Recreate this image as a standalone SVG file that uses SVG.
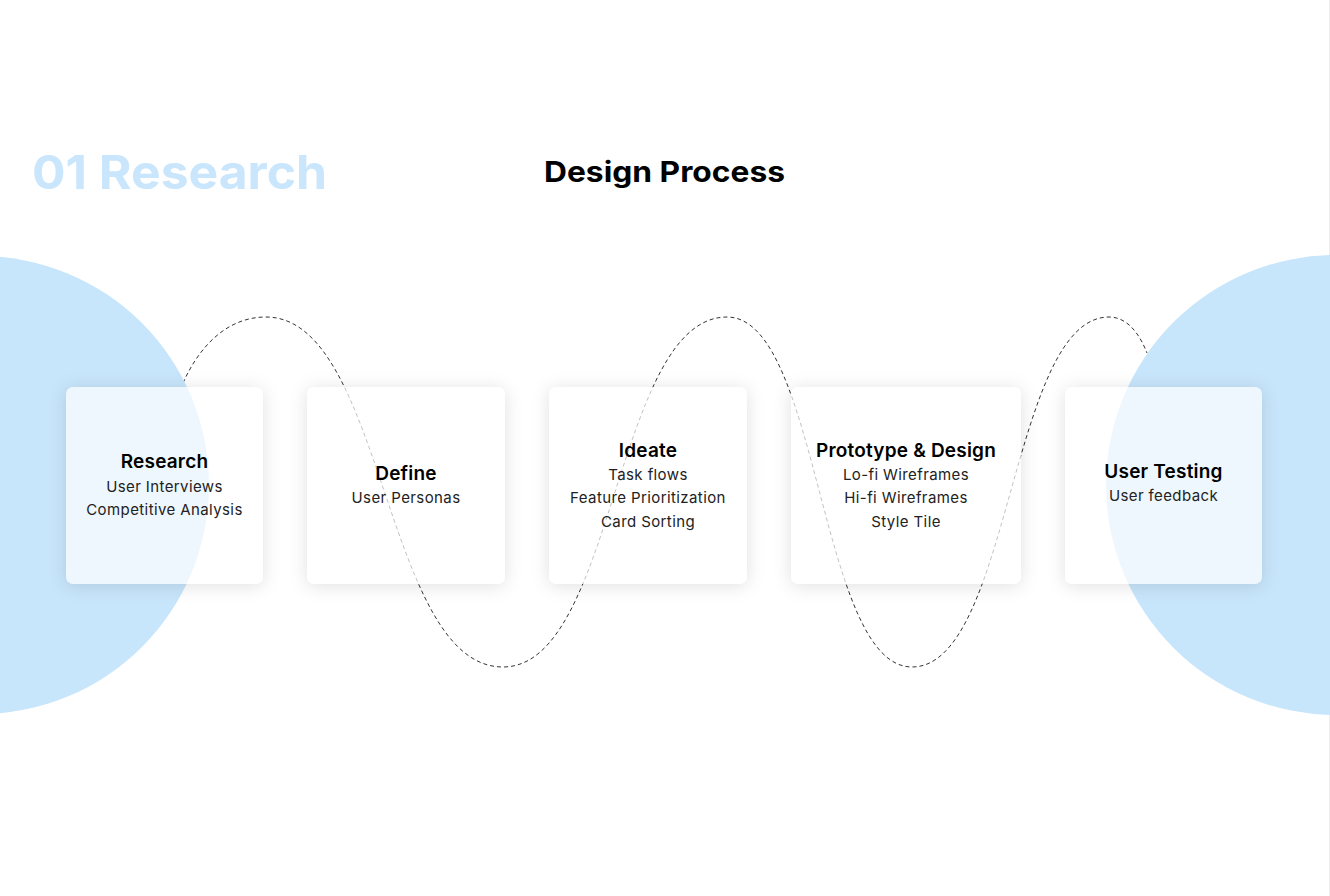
<svg xmlns="http://www.w3.org/2000/svg" width="1330" height="896" viewBox="0 0 1330 896">
  <defs>
    <filter id="shadow" x="-25%" y="-25%" width="150%" height="150%">
      <feGaussianBlur in="SourceAlpha" stdDeviation="9" result="b"/>
      <feOffset in="b" dx="0" dy="2" result="o"/>
      <feFlood flood-color="#000000" flood-opacity="0.12" result="c"/>
      <feComposite in="c" in2="o" operator="in" result="s"/>
      <feComposite in="s" in2="SourceAlpha" operator="out"/>
    </filter>
    <style>
      .bg { fill: #ffffff; }
      .blob { fill: #c7e5fb; }
      .sh { fill: #ffffff; filter: url(#shadow); }
      .card { fill: #ffffff; fill-opacity: 0.7; }
      .path { fill: none; stroke: #333333; stroke-width: 1; stroke-dasharray: 4 3; }
      .title { font-family: "Inter", "Liberation Sans", sans-serif; font-weight: 700; font-size: 29px; fill: #000000; }
      .big { font-family: "Inter", "Liberation Sans", sans-serif; font-weight: 700; font-size: 47px; fill: #c9e6fc; }
      .ct { font-family: "Inter", "Liberation Sans", sans-serif; font-weight: 600; font-size: 19px; letter-spacing: 0.2px; fill: #000000; text-anchor: middle; }
      .cb { font-family: "Inter", "Liberation Sans", sans-serif; font-weight: 400; font-size: 15px; letter-spacing: 0.4px; fill: #222222; text-anchor: middle; }
    </style>
  </defs>
  <rect class="bg" x="0" y="0" width="1330" height="896"/>
  <line x1="1329.5" y1="0" x2="1329.5" y2="896" stroke="#eeeeee" stroke-width="1"/>

  <text class="big" x="32" y="189" textLength="295" lengthAdjust="spacingAndGlyphs">01 Research</text>
  <text class="title" x="544" y="182" textLength="241" lengthAdjust="spacingAndGlyphs">Design Process</text>

  <g id="connectors">
    <path class="path" d="M 183 383 C 200 345, 228 317, 266 317 C 384.5 317, 384.5 667, 503 667 C 615 667, 615 317, 727 317 C 819.5 317, 819.5 667, 912 667 C 1010.5 667, 1010.5 317, 1109 317 C 1128 317, 1140 335, 1147 353"/>
  </g>

  <circle class="blob" cx="-20" cy="485" r="229"/>
  <circle class="blob" cx="1336" cy="485" r="230"/>

  <g id="research">
    <rect class="sh" x="66" y="387" width="197" height="197" rx="7"/>
    <rect class="card" x="66" y="387" width="197" height="197" rx="7"/>
    <text class="ct" x="164.5" y="468">Research</text>
    <text class="cb" x="164.5" y="492">User Interviews</text>
    <text class="cb" x="164.5" y="515">Competitive Analysis</text>
  </g>
  <g id="define">
    <rect class="sh" x="307" y="387" width="198" height="197" rx="7"/>
    <rect class="card" x="307" y="387" width="198" height="197" rx="7"/>
    <text class="ct" x="406" y="480">Define</text>
    <text class="cb" x="406" y="503">User Personas</text>
  </g>
  <g id="ideate">
    <rect class="sh" x="549" y="387" width="198" height="197" rx="7"/>
    <rect class="card" x="549" y="387" width="198" height="197" rx="7"/>
    <text class="ct" x="648" y="457">Ideate</text>
    <text class="cb" x="648" y="480">Task flows</text>
    <text class="cb" x="648" y="503">Feature Prioritization</text>
    <text class="cb" x="648" y="527">Card Sorting</text>
  </g>
  <g id="prototype">
    <rect class="sh" x="791" y="387" width="230" height="197" rx="7"/>
    <rect class="card" x="791" y="387" width="230" height="197" rx="7"/>
    <text class="ct" x="906" y="457">Prototype &amp; Design</text>
    <text class="cb" x="906" y="480">Lo-fi Wireframes</text>
    <text class="cb" x="906" y="503">Hi-fi Wireframes</text>
    <text class="cb" x="906" y="527">Style Tile</text>
  </g>
  <g id="testing">
    <rect class="sh" x="1065" y="387" width="197" height="197" rx="7"/>
    <rect class="card" x="1065" y="387" width="197" height="197" rx="7"/>
    <text class="ct" x="1163.5" y="478">User Testing</text>
    <text class="cb" x="1163.5" y="501">User feedback</text>
  </g>
</svg>
